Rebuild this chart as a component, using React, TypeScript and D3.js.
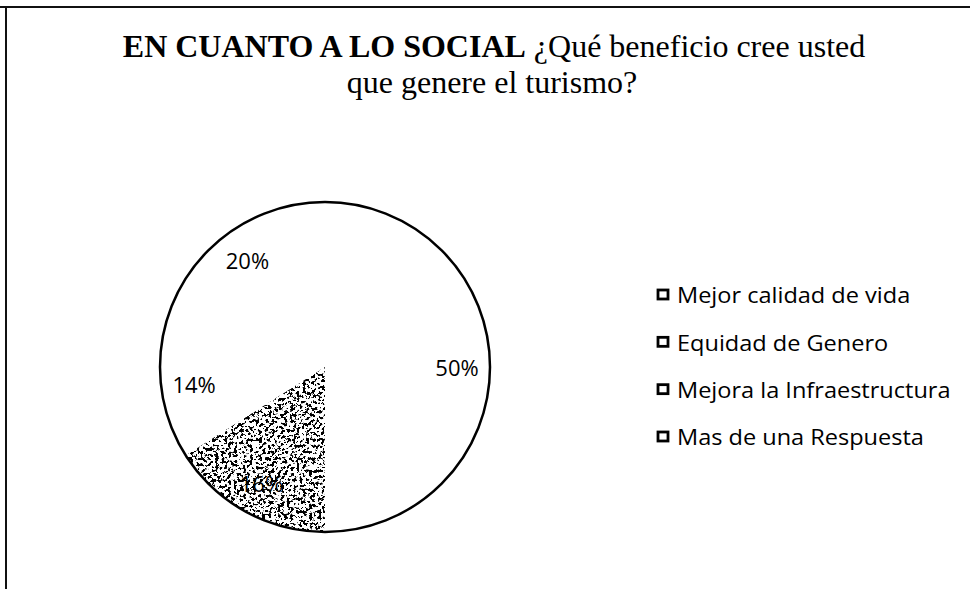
import React from "react";
import * as d3 from "d3";

const categories = [
  "Mejor calidad de vida",
  "Equidad de Genero",
  "Mejora la Infraestructura",
  "Mas de una Respuesta",
];
const values = [50, 16, 14, 20];
const labels = ["50%", "16%", "14%", "20%"];
const speckled = [false, true, false, false];

const W = 970;
const H = 589;
const cx = 325;
const cy = 367;
const R = 165;

export default function App() {
  const pie = d3.pie<number>().sort(null).value((d) => d);
  const arcs = pie(values);
  const arc = d3.arc<d3.PieArcDatum<number>>().innerRadius(0).outerRadius(R);
  const labelArc = d3
    .arc<d3.PieArcDatum<number>>()
    .innerRadius(R * 0.8)
    .outerRadius(R * 0.8);
  const legendY = d3.scalePoint<string>().domain(categories).range([295, 437]);

  return (
    <svg
      width={W}
      height={H}
      style={{ position: "absolute", left: 0, top: 0, background: "#fff" }}
    >
      <defs>
        <filter id="speck" x="0" y="0" width="100%" height="100%" filterUnits="objectBoundingBox">
          <feTurbulence type="fractalNoise" baseFrequency="0.32" numOctaves="3" seed="11" result="noise" />
          <feColorMatrix
            in="noise"
            type="matrix"
            values="0 0 0 0 0  0 0 0 0 0  0 0 0 0 0  22 0 0 0 -11.6"
            result="dots"
          />
          <feComposite in="dots" in2="SourceGraphic" operator="in" />
        </filter>
      </defs>
      <rect x={0} y={0} width={W} height={H} fill="#fff" />
      <line x1={0} y1={7} x2={W} y2={7} stroke="#111" strokeWidth={2} />
      <line x1={6} y1={7} x2={6} y2={H} stroke="#111" strokeWidth={2} />

      <text
        x={494}
        y={57}
        textAnchor="middle"
        fontFamily="'Liberation Serif', serif"
        fontSize={32}
        fill="#000"
      >
        <tspan fontWeight="bold">EN CUANTO A LO SOCIAL</tspan>
        <tspan> ¿Qué beneficio cree usted</tspan>
      </text>
      <text
        x={492}
        y={93}
        textAnchor="middle"
        fontFamily="'Liberation Serif', serif"
        fontSize={32}
        fill="#000"
      >
        que genere el turismo?
      </text>

      <g transform={`translate(${cx},${cy})`}>
        {arcs.map((a, i) => (
          <path key={"s" + i} d={arc(a) || ""} fill="#fff" />
        ))}
        {arcs.map((a, i) =>
          speckled[i] ? (
            <path key={"p" + i} d={arc(a) || ""} fill="#fff" filter="url(#speck)" />
          ) : null
        )}
        <circle r={R} fill="none" stroke="#000" strokeWidth={2.5} />
        {arcs.map((a, i) => {
          const [x, y] = labelArc.centroid(a);
          return (
            <text
              key={"l" + i}
              x={x}
              y={y}
              textAnchor="middle"
              dominantBaseline="central"
              fontFamily="'Open Sans', sans-serif"
              fontSize={22}
              fill="#000"
            >
              {labels[i]}
            </text>
          );
        })}
      </g>

      {categories.map((c, i) => {
        const y = legendY(c) as number;
        return (
          <g key={"g" + i}>
            <rect x={658} y={y - 5} width={10} height={9} fill="#fff" stroke="#000" strokeWidth={2.8} />
            <g transform={`translate(677,${y}) scale(1.07,1)`}>
              <text
                x={0}
                y={0}
                dominantBaseline="central"
                fontFamily="'Open Sans', sans-serif"
                fontSize={22}
                fill="#000"
              >
                {c}
              </text>
            </g>
          </g>
        );
      })}
    </svg>
  );
}
